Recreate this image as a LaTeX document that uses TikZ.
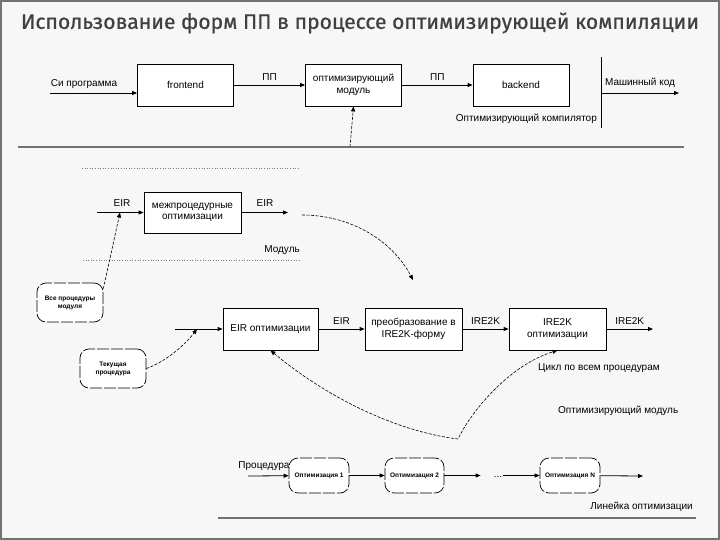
\documentclass[tikz,border=0pt]{standalone}
\usepackage{fontspec}
\setmainfont{Liberation Sans}
\newfontfamily\titlefont[FakeBold=0.7]{Fira Sans}
\usetikzlibrary{arrows.meta,calc}
\begin{document}
\begin{tikzpicture}[x=1pt,y=-1pt,
  every node/.style={font=\fontsize{10}{11.5}\selectfont},
  box/.style={draw, line width=0.8pt, fill=white, align=center, inner sep=0pt,
    minimum width=96pt, minimum height=42pt},
  soft/.style={draw, line width=0.7pt, fill=white, align=center, inner sep=0pt,
    rounded corners=9pt, dash pattern=on 12pt off 2pt,
    font=\fontsize{6.5}{8}\bfseries\selectfont},
  flow/.style={line width=0.8pt, -{Triangle[length=5pt,width=4pt]}},
  hint/.style={line width=0.6pt, dash pattern=on 3pt off 1.5pt, -{Triangle[length=5pt,width=4pt]}},
  sep/.style={line width=1.2pt, draw=black!55},
  dots/.style={line width=0.6pt, draw=black!50, dotted},
  lbl/.style={inner sep=1pt}]
\useasboundingbox (0,0) rectangle (720,540);
\fill[black!3] (0,0) rectangle (720,540);
\draw[line width=1.5pt, black!55] (1,1) rectangle (719,539);

% title
\node[text=black!75] (title) at (360,23) {\resizebox{678pt}{!}{\titlefont Использование форм ПП в процессе оптимизирующей компиляции}};

% ---------- top: compiler ----------
\node[box] (fe) at (185.5,85) {frontend};
\node[box] (opt) at (353.5,85) {оптимизирующий\\модуль};
\node[box] (be) at (521,85) {backend};
\coordinate (cin) at (50,93);
\coordinate (cmid) at (601,93);
\coordinate (cout) at (679,93);
\coordinate (vtop) at (601,57);
\coordinate (vbot) at (601,128);
\draw[flow] (cin) -- (cin -| fe.west);
\node[lbl] (lsi) at (84,84) {Си программа};
\draw[flow] (fe) -- (opt) node[lbl, midway, above=3pt] (lpp1) {ПП};
\draw[flow] (opt) -- (be) node[lbl, midway, above=3pt] (lpp2) {ПП};
\draw[line width=0.8pt] (vtop) -- (vbot);
\draw[flow] (cmid) -- (cout);
\node[lbl] (lmk) at (640,83) {Машинный код};
\node[lbl, anchor=east] (lcomp) at (598,119) {Оптимизирующий компилятор};

\coordinate (s1a) at (18,147);
\coordinate (s1b) at (684,147);
\draw[sep] (s1a) -- (s1b);
\coordinate (tap) at (350,147);
\draw[hint] (tap) -- (opt.south);

% ---------- middle: optimizing module ----------
\coordinate (d1a) at (82,168);
\coordinate (d1b) at (300,168);
\draw[dots] (d1a) -- (d1b);
\node[box, minimum width=97pt, minimum height=41pt] (ipo) at (192.5,212.5) {межпроцедурные\\оптимизации};
\coordinate (ein) at (97,212.5);
\coordinate (eout) at (288,212.5);
\coordinate (ej) at (120,212.5);
\draw[flow] (ein) -- (ipo);
\node[lbl] (leir1) at (122,203) {EIR};
\draw[flow] (ipo) -- (eout);
\node[lbl] (leir2) at (265,203) {EIR};
\node[lbl, anchor=east] (lmod) at (301,250) {Модуль};
\coordinate (d2a) at (83,260);
\coordinate (d2b) at (300,260);
\draw[dots] (d2a) -- (d2b);

\node[soft, minimum width=66pt, minimum height=39pt] (allp) at (70,302.5) {Все процедуры\\модуля};
\node[soft, minimum width=66pt, minimum height=39pt] (curp) at (113,368.5) {Текущая\\процедура};
\draw[hint] (allp.north east) ++(0,6) coordinate (allq) (allq) -- (ej);

\coordinate (cs) at (302,215);
\coordinate (ce) at (413,280);
\draw[hint] (cs) .. controls (350,215) and (392,240) .. (ce);

\node[box, minimum width=95pt] (eir) at (270.5,329) {EIR оптимизации};
\node[box, minimum width=97pt] (conv) at (413.5,329) {преобразование в\\IRE2K-форму};
\node[box, minimum width=97pt] (ire) at (557.5,329) {IRE2K\\оптимизации};
\coordinate (lin) at (175,329);
\coordinate (lj) at (197,329);
\coordinate (lout) at (653,329);
\draw[flow] (lin) -- (eir);
\draw[hint] (curp.east) .. controls (165,362) and (185,345) .. (lj);
\draw[flow] (eir) -- (conv) node[lbl, midway, above=3pt] (leir3) {EIR};
\draw[flow] (conv) -- (ire) node[lbl, midway, above=3pt] (lire1) {IRE2K};
\draw[flow] (ire) -- (lout) node[lbl, midway, above=3pt] (lire2) {IRE2K};
\node[lbl, anchor=west] (lcyc) at (537,368) {Цикл по всем процедурам};
\coordinate (lc) at (458,439);
\draw[hint, {Triangle[length=5pt,width=4pt]}-{Triangle[length=5pt,width=4pt]}]
  (eir.south) .. controls (330,400) and (400,432) .. (lc)
  .. controls (472,410) and (510,365) .. (ire.south);
\node[lbl, anchor=west] (lom) at (557,411) {Оптимизирующий модуль};

% ---------- bottom: optimization line ----------
\node[soft, minimum width=60pt, minimum height=35pt] (o1) at (319,475.5) {Оптимизация 1};
\node[soft, minimum width=59pt, minimum height=35pt] (o2) at (414.5,475.5) {Оптимизация 2};
\node[lbl] (odots) at (498,475.5) {\raisebox{-3pt}{...}};
\node[soft, minimum width=60pt, minimum height=35pt] (on) at (570,475.5) {Оптимизация N};
\coordinate (pin) at (248,476);
\coordinate (pout) at (643,476);
\draw[flow] (pin) -- (o1);
\node[lbl] (lproc) at (264,466) {Процедура};
\draw[flow] (o1) -- (o2);
\draw[flow] (o2) -- ($(odots.west)+(-12,0)$);
\draw[flow] (odots.east) -- (on);
\draw[flow] (on) -- (pout);
\node[lbl, anchor=east] (llin) at (694,507) {Линейка оптимизации};
\coordinate (s2a) at (218,518);
\coordinate (s2b) at (696,518);
\draw[sep] (s2a) -- (s2b);
\end{tikzpicture}
\end{document}
